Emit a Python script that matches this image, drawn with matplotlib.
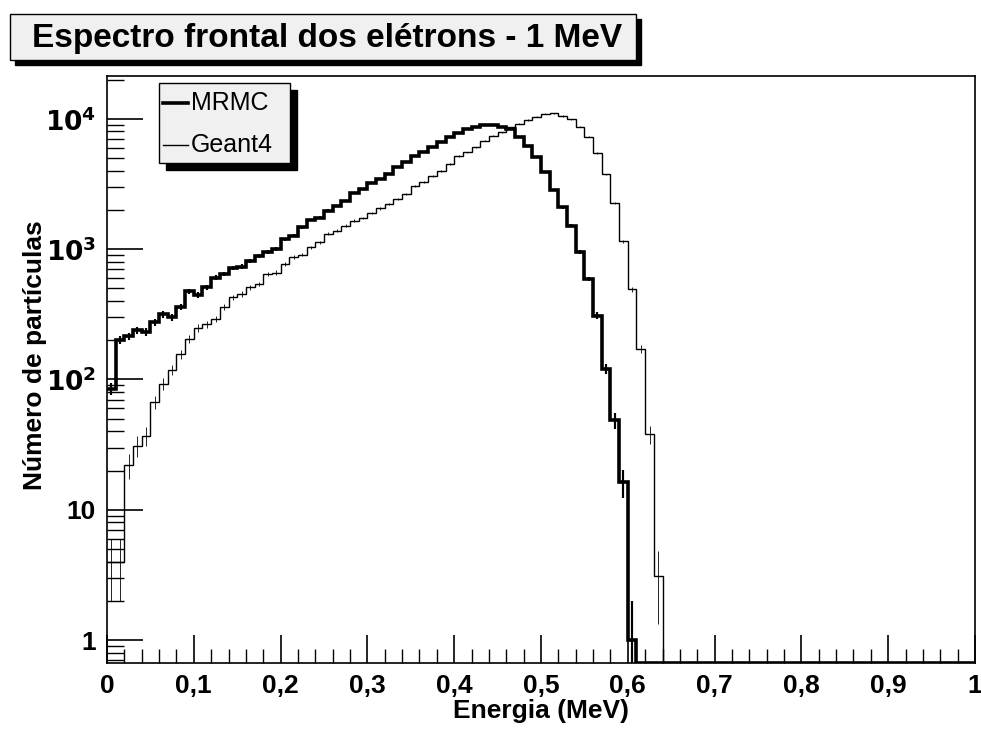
import numpy as np
import matplotlib.pyplot as plt
from matplotlib.patches import Rectangle
from matplotlib.lines import Line2D

# histogramas: 100 bins de 0.01 MeV entre 0 e 1 MeV
bordas = np.linspace(0, 1, 101)

mrmc = [85, 200, 214, 238, 232, 275, 315, 300, 358, 475,
        445, 510, 605, 645, 720, 735, 817, 890, 946, 1000,
        1190, 1270, 1470, 1675, 1740, 1970, 2150, 2350, 2680, 2890,
        3200, 3480, 3800, 4240, 4690, 5140, 5590, 6030, 6590, 7200,
        7760, 8330, 8720, 8950, 8950, 8580, 8340, 7200, 6210, 5060,
        3900, 2860, 2090, 1510, 946, 591, 309, 121, 48.6, 16.3,
        1] + [0] * 39

geant4 = [4, 4, 22, 31, 37, 67, 93, 119, 157, 205,
          249, 264, 292, 358, 427, 453, 510, 540, 645, 660,
          770, 866, 908, 1030, 1130, 1310, 1385, 1510, 1650, 1730,
          1900, 2050, 2220, 2425, 2650, 3070, 3250, 3660, 4000, 4500,
          5200, 5520, 6030, 6780, 7410, 7850, 8600, 9200, 9800, 10400,
          10900, 11000, 10500, 9950, 8680, 7280, 5480, 3740, 2270, 1150,
          490, 172, 38, 3.1] + [0] * 36

ymin, ymax = 0.667, 2.13e4
fonte = ['Liberation Sans', 'DejaVu Sans']

fig = plt.figure(figsize=(9.81, 7.29), dpi=100)
ax = fig.add_axes([107/981, 1-663/729, 868/981, 587/729])

centros = 0.5 * (bordas[:-1] + bordas[1:])
for dados, lw in [(geant4, 1.0), (mrmc, 2.6)]:
    v = np.array(dados, dtype=float)
    ax.stairs(np.clip(v, ymin, None), bordas, color='k', lw=lw, baseline=None)
    ok = v > 0
    ax.errorbar(centros[ok], v[ok], yerr=np.sqrt(v[ok]), fmt='none',
                ecolor='k', elinewidth=lw * 0.6)

ax.set_yscale('log')
ax.set_xlim(0, 1)
ax.set_ylim(ymin, ymax)

# eixos no estilo ROOT
ax.set_xticks(np.arange(0, 1.01, 0.1))
ax.set_xticklabels(['0', '0,1', '0,2', '0,3', '0,4', '0,5', '0,6', '0,7', '0,8', '0,9', '1'])
ax.set_xticks(np.arange(0, 1.001, 0.02), minor=True)
ax.set_yticks([1, 10, 100, 1000, 10000])
ax.set_yticklabels(['1', '10', r'$\mathbf{10^{2}}$', r'$\mathbf{10^{3}}$', r'$\mathbf{10^{4}}$'])
ax.tick_params(which='major', direction='in', length=20, width=1.2, labelsize=19, pad=8)
ax.tick_params(axis='y', which='major', length=26)
ax.tick_params(which='minor', direction='in', length=10, width=1.0)
ax.tick_params(axis='y', which='minor', length=12)
for lab in ax.get_xticklabels() + ax.get_yticklabels():
    lab.set_fontweight('bold')
    lab.set_family(fonte)
for s in ax.spines.values():
    s.set_linewidth(1.2)

W, H = 981, 729
fig.text(541/W, 1 - 711/H, 'Energia (MeV)', ha='center', va='center',
         fontsize=19, fontweight='bold', family=fonte)
fig.text(35/W, 1 - 355/H, 'Número de partículas', ha='center', va='center', rotation=90,
         fontsize=19, fontweight='bold', family=fonte)

# caixa do titulo com sombra
def caixa(x0, y0, x1, y1, sombra):
    fig.patches.append(Rectangle(((x0 + sombra)/W, 1 - (y1 + sombra)/H), (x1 - x0)/W, (y1 - y0)/H,
                                 transform=fig.transFigure, facecolor='k', edgecolor='k', zorder=5))
    fig.patches.append(Rectangle((x0/W, 1 - y1/H), (x1 - x0)/W, (y1 - y0)/H,
                                 transform=fig.transFigure, facecolor='#f0f0f0', edgecolor='k',
                                 lw=1.0, zorder=6))

caixa(10, 14, 636, 60, 5)
fig.text(327/W, 1 - 38/H, 'Espectro frontal dos elétrons - 1 MeV', ha='center', va='center',
         fontsize=24, fontweight='bold', family=fonte, zorder=7)

# legenda
caixa(159, 83, 290, 163, 7)
for yy, lw, nome in [(103, 2.6, 'MRMC'), (145, 1.0, 'Geant4')]:
    fig.lines.append(Line2D([163/W, 188/W], [1 - yy/H, 1 - yy/H], transform=fig.transFigure,
                            color='k', lw=lw, zorder=7))
    fig.text(191/W, 1 - yy/H, nome, ha='left', va='center', fontsize=18,
             family=fonte, zorder=7)

plt.savefig('out.png', dpi=100)
